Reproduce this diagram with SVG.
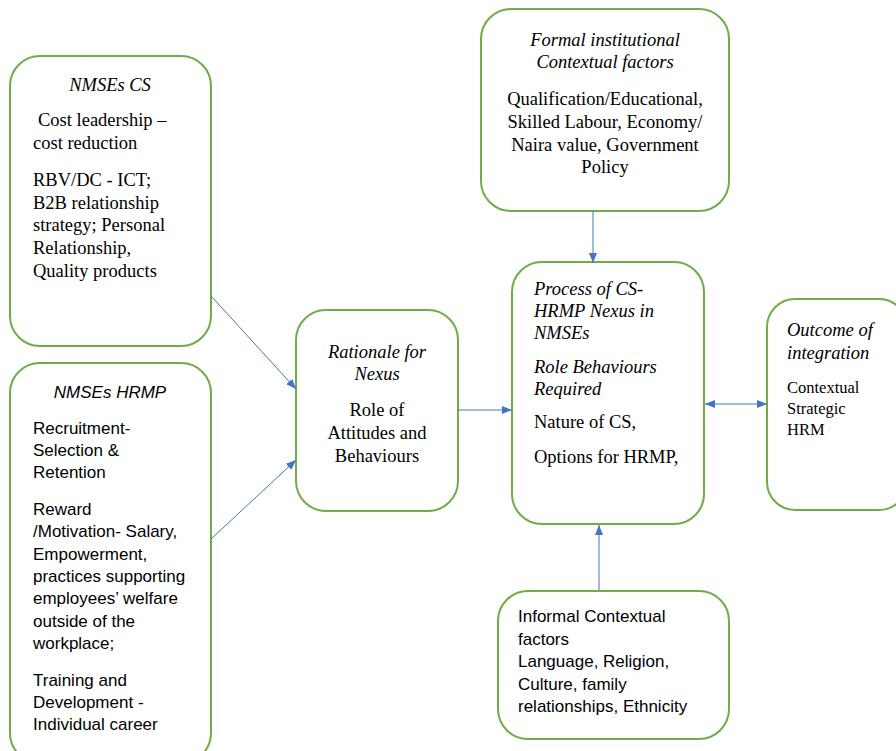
<svg xmlns="http://www.w3.org/2000/svg" width="896" height="751" viewBox="0 0 896 751">
<defs>
<marker id="ah" markerWidth="10" markerHeight="8" refX="10" refY="4" orient="auto-start-reverse" markerUnits="userSpaceOnUse">
<path d="M0,0 L10,4 L0,8 Z" fill="#4472C4"/>
</marker>
<style>
.box{fill:#fff;stroke:#70AD47;stroke-width:2}
.s{font-family:"Liberation Serif","Times New Roman",serif;font-size:18.5px;fill:#000}
.ss{font-family:"Liberation Sans",Arial,sans-serif;font-size:17px;fill:#000}
.i{font-style:italic}
.m{text-anchor:middle}
.c{stroke:#4472C4;stroke-width:1;fill:none}
</style>
</defs>
<rect width="896" height="751" fill="#fff"/>
<g id="n-cs">
<rect class="box" x="10" y="56" width="201" height="290" rx="30"/>
<text class="s i m" x="110" y="91">NMSEs CS</text>
<text class="s" x="38" y="126">Cost leadership –</text>
<text class="s" x="33" y="149">cost reduction</text>
<text class="s" x="33" y="186">RBV/DC - ICT;</text>
<text class="s" x="33" y="209">B2B relationship</text>
<text class="s" x="33" y="231">strategy; Personal</text>
<text class="s" x="33" y="254">Relationship,</text>
<text class="s" x="33" y="277">Quality products</text>
</g>
<g id="n-hrmp">
<rect class="box" x="10" y="363" width="201" height="400" rx="30"/>
<text class="ss i m" x="110" y="398">NMSEs HRMP</text>
<text class="ss" x="33" y="434">Recruitment-</text>
<text class="ss" x="33" y="456">Selection &amp;</text>
<text class="ss" x="33" y="478">Retention</text>
<text class="ss" x="33" y="515">Reward</text>
<text class="ss" x="33" y="537">/Motivation- Salary,</text>
<text class="ss" x="33" y="560">Empowerment,</text>
<text class="ss" x="33" y="582">practices supporting</text>
<text class="ss" x="33" y="604">employees’ welfare</text>
<text class="ss" x="33" y="627">outside of the</text>
<text class="ss" x="33" y="649">workplace;</text>
<text class="ss" x="33" y="686">Training and</text>
<text class="ss" x="33" y="708">Development -</text>
<text class="ss" x="33" y="730">Individual career</text>
</g>
<g id="n-rationale">
<rect class="box" x="296" y="310" width="162" height="201" rx="30"/>
<text class="s i m" x="377" y="358">Rationale for</text>
<text class="s i m" x="377" y="380">Nexus</text>
<text class="s m" x="377" y="416">Role of</text>
<text class="s m" x="377" y="439">Attitudes and</text>
<text class="s m" x="377" y="462">Behaviours</text>
</g>
<g id="n-formal">
<rect class="box" x="481" y="9" width="248" height="202" rx="30"/>
<text class="s i m" x="605" y="46">Formal institutional</text>
<text class="s i m" x="605" y="68">Contextual factors</text>
<text class="s m" x="605" y="105">Qualification/Educational,</text>
<text class="s m" x="605" y="128">Skilled Labour, Economy/</text>
<text class="s m" x="605" y="151">Naira value, Government</text>
<text class="s m" x="605" y="173">Policy</text>
</g>
<g id="n-process">
<rect class="box" x="512" y="262" width="192" height="262" rx="30"/>
<text class="s i" x="534" y="295">Process of CS-</text>
<text class="s i" x="534" y="317">HRMP Nexus in</text>
<text class="s i" x="534" y="339">NMSEs</text>
<text class="s i" x="534" y="373">Role Behaviours</text>
<text class="s i" x="534" y="395">Required</text>
<text class="s" x="534" y="428">Nature of CS,</text>
<text class="s" x="534" y="463">Options for HRMP,</text>
</g>
<g id="n-outcome">
<rect class="box" x="767" y="299" width="140" height="211" rx="28"/>
<text class="s i" x="787" y="336">Outcome of</text>
<text class="s i" x="787" y="359">integration</text>
<text class="s" x="787" y="393" style="font-size:16.5px">Contextual</text>
<text class="s" x="787" y="414" style="font-size:16.5px">Strategic</text>
<text class="s" x="787" y="435" style="font-size:16.5px">HRM</text>
</g>
<g id="n-informal">
<rect class="box" x="498" y="591" width="231" height="148" rx="30"/>
<text class="ss" x="518" y="622">Informal Contextual</text>
<text class="ss" x="518" y="645">factors</text>
<text class="ss" x="518" y="667">Language, Religion,</text>
<text class="ss" x="518" y="690">Culture, family</text>
<text class="ss" x="518" y="712">relationships, Ethnicity</text>
</g>
<g id="connectors">
<line class="c" x1="211" y1="296" x2="296" y2="389" marker-end="url(#ah)"/>
<line class="c" x1="211" y1="539" x2="296" y2="460" marker-end="url(#ah)"/>
<line class="c" x1="458" y1="410" x2="512" y2="410" marker-end="url(#ah)"/>
<line class="c" x1="593" y1="211" x2="593" y2="263" marker-end="url(#ah)"/>
<line class="c" x1="705" y1="404" x2="767" y2="404" marker-start="url(#ah)" marker-end="url(#ah)"/>
<line class="c" x1="599" y1="590" x2="599" y2="525" marker-end="url(#ah)"/>
</g>
</svg>
